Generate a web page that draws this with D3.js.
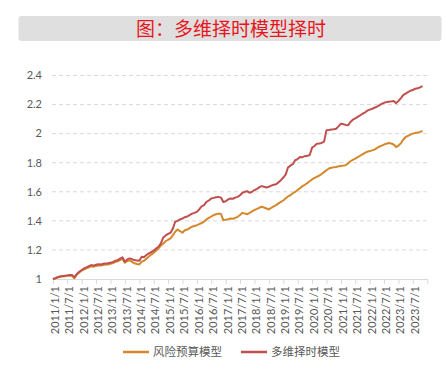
<!DOCTYPE html>
<html>
<head>
<meta charset="utf-8">
<script src="https://cdn.jsdelivr.net/npm/d3@7"></script>
<style>
  body { margin: 0; background: #fff; }
  text { font-family: Lato, "Noto Sans CJK SC", sans-serif; }
  .cjk { font-family: "Noto Sans CJK SC", sans-serif; }
</style>
</head>
<body>
<div id="chart"></div>
<script>
const width = 446, height = 369;

// series: month-end values, Jan 2011 .. Nov 2023
const riskBudget = [
  1.000, 1.004, 1.010, 1.015, 1.017, 1.019, 1.022, 1.024, 1.020, 1.005, 1.030, 1.045,
  1.057, 1.066, 1.073, 1.080, 1.088, 1.085, 1.090, 1.094, 1.092, 1.097, 1.099, 1.100,
  1.104, 1.110, 1.116, 1.121, 1.130, 1.138, 1.112, 1.124, 1.128, 1.118, 1.108, 1.103,
  1.100, 1.120, 1.125, 1.140, 1.155, 1.168, 1.180, 1.195, 1.210, 1.230, 1.245, 1.260,
  1.270, 1.279, 1.300, 1.325, 1.340, 1.330, 1.318, 1.335, 1.340, 1.350, 1.360, 1.365,
  1.370, 1.378, 1.385, 1.394, 1.410, 1.420, 1.430, 1.440, 1.445, 1.450, 1.448, 1.405,
  1.408, 1.412, 1.416, 1.415, 1.420, 1.428, 1.440, 1.455, 1.450, 1.446, 1.455, 1.465,
  1.475, 1.482, 1.490, 1.497, 1.492, 1.485, 1.478, 1.490, 1.500, 1.508, 1.520, 1.530,
  1.540, 1.555, 1.568, 1.576, 1.590, 1.600, 1.612, 1.625, 1.639, 1.648, 1.660, 1.672,
  1.685, 1.695, 1.703, 1.712, 1.722, 1.735, 1.748, 1.760, 1.765, 1.768, 1.770, 1.775,
  1.778, 1.780, 1.782, 1.795, 1.810, 1.820, 1.828, 1.838, 1.848, 1.858, 1.868, 1.876,
  1.880, 1.885, 1.890, 1.900, 1.910, 1.918, 1.925, 1.931, 1.935, 1.932, 1.925, 1.908,
  1.918, 1.935, 1.958, 1.977, 1.985, 1.993, 2.000, 2.005, 2.008, 2.012, 2.018
];
const multiTiming = [
  1.000, 1.005, 1.012, 1.018, 1.020, 1.022, 1.025, 1.028, 1.027, 1.012, 1.035, 1.050,
  1.062, 1.073, 1.080, 1.088, 1.096, 1.092, 1.098, 1.102, 1.100, 1.105, 1.107, 1.108,
  1.112, 1.118, 1.125, 1.130, 1.140, 1.149, 1.119, 1.135, 1.142, 1.136, 1.130, 1.128,
  1.126, 1.153, 1.150, 1.165, 1.176, 1.185, 1.195, 1.210, 1.222, 1.245, 1.286, 1.300,
  1.310, 1.318, 1.345, 1.394, 1.400, 1.410, 1.416, 1.425, 1.430, 1.440, 1.450, 1.455,
  1.462, 1.480, 1.500, 1.508, 1.530, 1.540, 1.554, 1.558, 1.562, 1.565, 1.560, 1.530,
  1.535, 1.548, 1.554, 1.552, 1.560, 1.565, 1.576, 1.593, 1.600, 1.604, 1.593, 1.600,
  1.612, 1.620, 1.630, 1.639, 1.635, 1.630, 1.634, 1.642, 1.648, 1.652, 1.665, 1.680,
  1.698, 1.720, 1.767, 1.780, 1.790, 1.817, 1.825, 1.840, 1.838, 1.845, 1.848, 1.851,
  1.904, 1.915, 1.931, 1.932, 1.936, 1.945, 2.023, 2.025, 2.028, 2.030, 2.034, 2.050,
  2.069, 2.065, 2.060, 2.057, 2.080, 2.096, 2.105, 2.115, 2.125, 2.137, 2.145, 2.158,
  2.165, 2.171, 2.178, 2.185, 2.195, 2.205, 2.212, 2.217, 2.220, 2.222, 2.224, 2.210,
  2.225, 2.245, 2.265, 2.275, 2.285, 2.295, 2.300, 2.309, 2.312, 2.318, 2.327
];
const seriesNames = ['风险预算模型', '多维择时模型'];
const seriesColors = ['#d4882b', '#c0504d'];

const tickLabels = [
  '2011/1/1', '2011/7/1', '2012/1/1', '2012/7/1', '2013/1/1', '2013/7/1',
  '2014/1/1', '2014/7/1', '2015/1/1', '2015/7/1', '2016/1/1', '2016/7/1',
  '2017/1/1', '2017/7/1', '2018/1/1', '2018/7/1', '2019/1/1', '2019/7/1',
  '2020/1/1', '2020/7/1', '2021/1/1', '2021/7/1', '2022/1/1', '2022/7/1',
  '2023/1/1', '2023/7/1'
];
const yTicks = [1, 1.2, 1.4, 1.6, 1.8, 2, 2.2, 2.4];

const parseDate = d3.timeParse('%Y/%m/%d');
const start = new Date(2011, 0, 1);
const dates = riskBudget.map((d, i) => d3.timeMonth.offset(start, i));

const svg = d3.select('#chart').append('svg')
  .attr('width', width)
  .attr('height', height);

// title banner
svg.append('rect')
  .attr('x', 18.5).attr('y', 16)
  .attr('width', 423).attr('height', 25)
  .attr('rx', 3)
  .attr('fill', '#dfdfdf');
svg.append('text')
  .attr('class', 'cjk')
  .attr('x', 231).attr('y', 29)
  .attr('dy', '0.35em')
  .attr('text-anchor', 'middle')
  .attr('font-size', 19)
  .attr('fill', '#e8141b')
  .text('图：多维择时模型择时');

const x = d3.scaleTime()
  .domain([start, new Date(2024, 0, 1)])
  .range([52.9, 427.3]);
const y = d3.scaleLinear()
  .domain([1, 2.4])
  .range([279, 75.5]);

// gridlines
svg.append('g')
  .selectAll('line')
  .data(yTicks.slice(1))
  .enter().append('line')
    .attr('x1', 52).attr('x2', 428)
    .attr('y1', d => y(d)).attr('y2', d => y(d))
    .attr('stroke', '#d9d9d9')
    .attr('stroke-dasharray', '4,3');

// y labels
svg.append('g')
  .selectAll('text')
  .data(yTicks)
  .enter().append('text')
    .attr('x', 42).attr('y', d => y(d))
    .attr('dy', '0.35em')
    .attr('text-anchor', 'end')
    .attr('font-size', 11)
    .attr('fill', '#595959')
    .text(d => d);

// x axis
const tickDates = tickLabels.map(parseDate);
const xAxis = d3.axisBottom(x)
  .tickValues(tickDates.concat([new Date(2024, 0, 1)]))
  .tickSize(5)
  .tickSizeOuter(0)
  .tickFormat('');
const gx = svg.append('g')
  .attr('transform', 'translate(0,' + y(1) + ')')
  .call(xAxis);
gx.select('.domain').attr('stroke', '#d9d9d9');
gx.selectAll('.tick line').attr('stroke', '#d9d9d9');

svg.append('g')
  .selectAll('text')
  .data(tickLabels)
  .enter().append('text')
    .attr('transform', d => 'translate(' + (x(parseDate(d)) + 2) + ',286) rotate(-90)')
    .attr('dy', '0.35em')
    .attr('text-anchor', 'end')
    .attr('font-size', 11)
    .attr('fill', '#595959')
    .text(d => d);

// lines
const line = d3.line()
  .x((d, i) => x(dates[i]))
  .y(d => y(d));

[riskBudget, multiTiming].forEach((s, k) => {
  svg.append('path')
    .datum(s)
    .attr('fill', 'none')
    .attr('stroke', seriesColors[k])
    .attr('stroke-width', 2)
    .attr('stroke-linejoin', 'round')
    .attr('d', line);
});

// legend
const legendX = [123, 241];
const legend = svg.append('g')
  .selectAll('g')
  .data(seriesNames)
  .enter().append('g')
    .attr('transform', (d, i) => 'translate(' + legendX[i] + ',352)');
legend.append('line')
  .attr('x1', 0).attr('x2', 26)
  .attr('stroke', (d, i) => seriesColors[i])
  .attr('stroke-width', 2.5);
legend.append('text')
  .attr('class', 'cjk')
  .attr('x', 30)
  .attr('dy', '0.35em')
  .attr('font-size', 11.5)
  .attr('fill', '#595959')
  .text(d => d);
</script>
</body>
</html>
